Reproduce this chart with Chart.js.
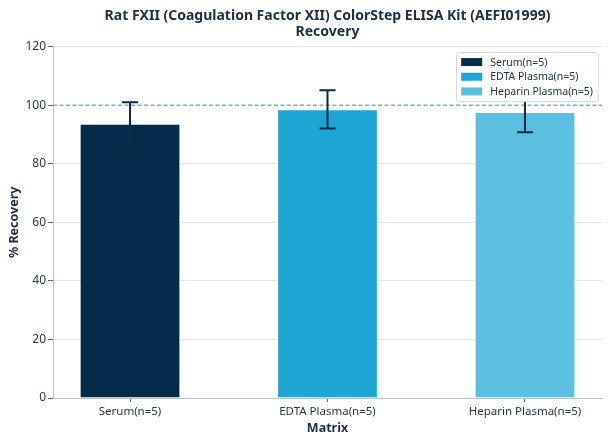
<!DOCTYPE html>
<html>
<head>
<meta charset="utf-8">
<script src="https://cdn.jsdelivr.net/npm/chart.js@4.4.1/dist/chart.umd.min.js"></script>
<style>
	html, body { margin: 0; padding: 0; background: #fff; }
	#wrap { width: 608px; height: 444px; }
</style>
</head>
<body>
<div id="wrap"><canvas id="grafico"></canvas></div>
<script>
// data
const categories = ['Serum(n=5)', 'EDTA Plasma(n=5)', 'Heparin Plasma(n=5)'];
const recovery = [93.7, 98.6, 97.7];
const errors = [7.3, 6.5, 6.9];
const colors = ['#042b4a', '#1fa5d3', '#5cbfe0'];
const refValue = 100;
const yTicks = [0, 20, 40, 60, 80, 100, 120];

const textColor = '#1b2f45';
const font = "'Noto Sans', 'Open Sans', sans-serif";

// dashed line at 100%
const refLine = {
	id: 'refLine',
	beforeDatasetsDraw(chart) {
		const ctx = chart.ctx;
		const area = chart.chartArea;
		const y = chart.scales.y.getPixelForValue(refValue);
		ctx.save();
		ctx.strokeStyle = '#3fa9cc';
		ctx.globalAlpha = 0.8;
		ctx.lineWidth = 1.4;
		ctx.setLineDash([4, 2.5]);
		ctx.beginPath();
		ctx.moveTo(area.left, y);
		ctx.lineTo(area.right, y);
		ctx.stroke();
		ctx.restore();
	}
};

// error bars (mean +/- sd)
const errorBars = {
	id: 'errorBars',
	afterDatasetsDraw(chart) {
		const ctx = chart.ctx;
		const yScale = chart.scales.y;
		ctx.save();
		ctx.strokeStyle = '#0e2b45';
		ctx.lineWidth = 2;
		chart.data.datasets.forEach((ds, i) => {
			const bar = chart.getDatasetMeta(i).data[0];
			const x = bar.x;
			const top = yScale.getPixelForValue(recovery[i] + errors[i]);
			const bottom = yScale.getPixelForValue(recovery[i] - errors[i]);
			ctx.beginPath();
			ctx.moveTo(x, top);
			ctx.lineTo(x, bottom);
			ctx.moveTo(x - 8, top);
			ctx.lineTo(x + 8, top);
			ctx.moveTo(x - 8, bottom);
			ctx.lineTo(x + 8, bottom);
			ctx.stroke();
		});
		ctx.restore();
	}
};

// legend box in the upper right corner, on top of everything
const boxLegend = {
	id: 'boxLegend',
	afterDraw(chart) {
		const ctx = chart.ctx;
		const area = chart.chartArea;
		const datasets = chart.data.datasets;
		ctx.save();
		ctx.font = '10.5px ' + font;
		let textW = 0;
		datasets.forEach(ds => { textW = Math.max(textW, ctx.measureText(ds.label).width); });
		const rowH = 14.7;
		const w = 5 + 21 + 8 + textW + 5;
		const h = datasets.length * rowH + 5;
		const right = area.right - 4;
		const left = right - w;
		const top = area.top + 5;

		ctx.fillStyle = '#ffffff';
		ctx.strokeStyle = '#d4d8dc';
		ctx.lineWidth = 1;
		ctx.beginPath();
		ctx.roundRect(Math.round(left) + 0.5, Math.round(top) + 0.5, w, h, 2);
		ctx.fill();
		ctx.stroke();

		datasets.forEach((ds, i) => {
			const cy = top + 3 + rowH * i + rowH / 2;
			ctx.fillStyle = ds.backgroundColor;
			ctx.fillRect(left + 5, cy - 4, 21, 8);
			ctx.fillStyle = textColor;
			ctx.textBaseline = 'middle';
			ctx.fillText(ds.label, left + 34, cy + 0.5);
		});
		ctx.restore();
	}
};

const ctx = document.getElementById('grafico').getContext('2d');
let myChart = new Chart(ctx, {
	type: 'bar',
	data: {
		datasets: categories.map((c, i) => ({
			label: c,
			data: [{ x: i, y: recovery[i] }],
			backgroundColor: colors[i],
			borderColor: 'rgba(255,255,255,0.6)',
			borderWidth: 1,
			stack: 'g',
			categoryPercentage: 1,
			barPercentage: 0.51
		}))
	},
	options: {
		responsive: true,
		maintainAspectRatio: false,
		animation: false,
		layout: { padding: { left: 0, right: 6, top: 0, bottom: 0 } },
		plugins: {
			legend: { display: false },
			tooltip: { enabled: false },
			title: {
				display: true,
				fullSize: false,
				text: ['Rat FXII (Coagulation Factor XII) ColorStep ELISA Kit (AEFI01999)', 'Recovery'],
				color: textColor,
				font: { family: font, size: 14, weight: 'bold', lineHeight: 1.15 },
				padding: { top: 8, bottom: 6.5 }
			}
		},
		scales: {
			x: {
				type: 'linear',
				offset: false,
				min: -0.39,
				max: 2.39,
				afterBuildTicks: scale => {
					scale.ticks = categories.map((c, i) => ({ value: i }));
				},
				afterFit: scale => { scale.height = 46; },
				grid: { offset: false, drawOnChartArea: false, tickLength: 4, tickColor: '#5a6670' },
				border: { color: '#b9c4cc' },
				ticks: {
					callback: v => categories[v],
					color: '#24384c',
					padding: 3,
					maxRotation: 0,
					autoSkip: false,
					font: { family: font, size: 11.5 }
				},
				title: {
					display: true,
					text: 'Matrix',
					color: textColor,
					padding: 8,
					font: { family: font, size: 12.5, weight: 'bold' }
				}
			},
			y: {
				min: 0,
				max: 120,
				afterBuildTicks: scale => {
					scale.ticks = yTicks.map(v => ({ value: v }));
				},
				afterFit: scale => { scale.width = 53; },
				grid: {
					color: c => (c.tick && c.tick.value === refValue) ? 'rgba(0,0,0,0)' : '#e4e8ec',
					tickLength: 5,
					tickColor: '#5a6670'
				},
				border: { color: '#b9c4cc' },
				ticks: {
					color: '#24384c',
					padding: 2,
					font: { family: font, size: 12 }
				},
				title: {
					display: true,
					text: '% Recovery',
					color: textColor,
					padding: 7,
					font: { family: font, size: 12.5, weight: 'bold' }
				}
			}
		}
	},
	plugins: [refLine, errorBars, boxLegend]
});
</script>
</body>
</html>
